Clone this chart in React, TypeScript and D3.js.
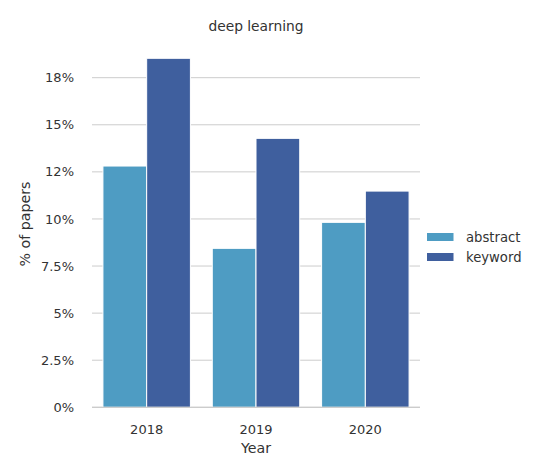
import React from "react";
import * as d3 from "d3";

const years = ["2018", "2019", "2020"];
const seriesNames = ["abstract", "keyword"];
const abstractValues = [12.81, 8.44, 9.82];
const keywordValues = [18.53, 14.28, 11.48];
const yTicks = [0, 2.5, 5, 7.5, 10, 12.5, 15, 17.5];
const yTickLabels = ["0%", "2.5%", "5%", "7.5%", "10%", "12%", "15%", "18%"];
const colors = ["#4e9cc3", "#3f5f9e"];

export default function App() {
  const W = 541, H = 465;
  const left = 92, right = 420, bottom = 407.3;
  const x = d3.scaleBand().domain(years).range([left, right]).padding(0);
  const inner = d3.scaleBand().domain(seriesNames).range([0, x.bandwidth() * 0.8]);
  const y = d3.scaleLinear().domain([0, 17.5]).range([bottom, 77.7]);
  const series = [abstractValues, keywordValues];
  const font = "DejaVu Sans, sans-serif";
  const textColor = "#333333";
  return (
    <svg width={W} height={H} style={{ position: "absolute", left: 0, top: 0, background: "#fff" }}>
      <text x={256} y={26} dy="0.35em" textAnchor="middle" fontFamily={font} fontSize={13.8} fill={textColor}>deep learning</text>
      {yTicks.map((t, i) => (
        <g key={t}>
          <line x1={left} x2={right} y1={y(t)} y2={y(t)} stroke="#cccccc" strokeWidth={1} />
          <text x={74} y={y(t)} dy="0.35em" textAnchor="end" fontFamily={font} fontSize={13} fill={textColor}>{yTickLabels[i]}</text>
        </g>
      ))}
      {years.map((yr, i) => (
        <g key={yr}>
          {seriesNames.map((s, j) => {
            const bx = (x(yr) as number) + x.bandwidth() * 0.1 + (inner(s) as number);
            const v = series[j][i];
            return (
              <rect key={s} x={bx} y={y(v)} width={inner.bandwidth()} height={bottom - y(v)}
                fill={colors[j]} stroke="#ffffff" strokeWidth={1} />
            );
          })}
          <text x={(x(yr) as number) + x.bandwidth() / 2} y={429} dy="0.35em" textAnchor="middle" fontFamily={font} fontSize={13} fill={textColor}>{yr}</text>
        </g>
      ))}
      <line x1={left} x2={right} y1={bottom} y2={bottom} stroke="#cccccc" strokeWidth={1.2} />
      <text x={256} y={448} dy="0.35em" textAnchor="middle" fontFamily={font} fontSize={14.2} fill={textColor}>Year</text>
      <text transform={`translate(25,224) rotate(-90)`} textAnchor="middle" dy="0.35em" fontFamily={font} fontSize={14.2} fill={textColor}>% of papers</text>
      {seriesNames.map((s, j) => (
        <g key={s}>
          <rect x={427} y={233 + j * 20} width={26.5} height={8} fill={colors[j]} />
          <text x={466} y={237 + j * 20} dy="0.35em" fontFamily={font} fontSize={13.2} fill={textColor}>{s}</text>
        </g>
      ))}
    </svg>
  );
}
